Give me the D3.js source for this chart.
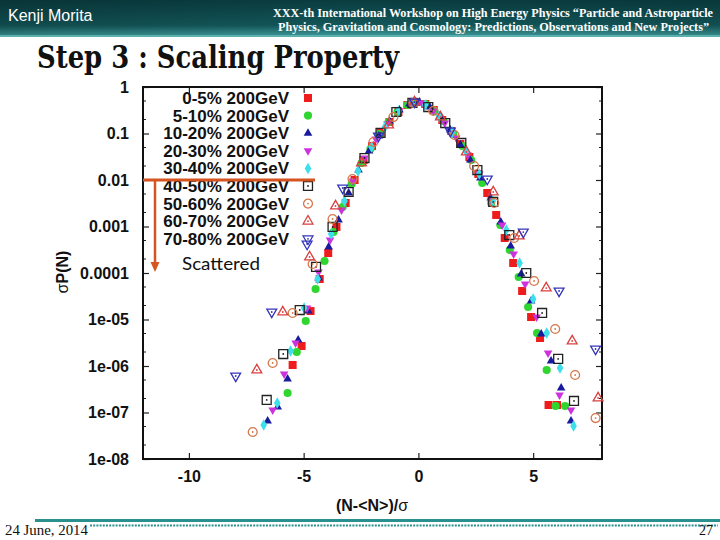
<!DOCTYPE html>
<html><head><meta charset="utf-8">
<script src="https://cdn.jsdelivr.net/npm/d3@7"></script>
<style>body{margin:0;background:#fff}svg{display:block}</style>
</head><body>
<script>
// ---------- data ----------
const categories = ["0-5% 200GeV","5-10% 200GeV","10-20% 200GeV","20-30% 200GeV","30-40% 200GeV","40-50% 200GeV","50-60% 200GeV","60-70% 200GeV","70-80% 200GeV"];
const xTickValues = [-10,-5,0,5];
const xTickLabels = ["-10","-5","0","5"];
const yTickValues = [1,0.1,0.01,0.001,0.0001,1e-5,1e-6,1e-7,1e-8];
const yTickLabels = ["1","0.1","0.01","0.001","0.0001","1e-05","1e-06","1e-07","1e-08"];

const s0_5 = [[-5.48,1.05e-6],[-5.09,2.69e-6],[-4.70,1.52e-5],[-4.30,7.43e-5],[-3.93,2.69e-4],[-3.57,9.76e-4],[-3.17,3.2e-3],[-2.78,1.0e-2],[-2.39,2.69e-2],[-2.02,5.38e-2],[-1.65,0.103],[-1.26,0.177],[-0.87,0.290],[-0.48,0.410],[-0.09,0.476],[0.30,0.431],[0.67,0.320],[1.04,0.195],[1.43,0.113],[1.83,5.94e-2],[2.22,3.13e-2],[2.61,1.35e-2],[3.0,5.25e-3],[3.39,1.77e-3],[3.76,5.66e-4],[4.13,1.64e-4],[4.52,4.1e-5],[4.91,1.13e-5],[5.30,4.0e-6],[5.67,1.45e-7],[6.04,1.45e-7]];
const s5_10 = [[-5.70,2.63e-7],[-5.30,2.0e-6],[-4.91,9.3e-6],[-4.48,4.53e-5],[-4.09,1.81e-4],[-3.70,7.6e-4],[-3.30,2.63e-3],[-2.91,8.2e-3],[-2.48,2.32e-2],[-2.09,4.64e-2],[-1.70,9.75e-2],[-1.30,0.177],[-0.91,0.290],[-0.48,0.410],[-0.09,0.476],[0.30,0.431],[0.70,0.305],[1.09,0.186],[1.52,9.75e-2],[1.91,5.38e-2],[2.30,2.69e-2],[2.78,8.6e-3],[3.17,3.2e-3],[3.57,1.08e-3],[3.98,3.12e-4],[4.37,8.2e-5],[4.78,1.86e-5],[5.17,5.1e-6],[5.59,8.2e-7],[5.98,1.38e-7],[6.39,1.38e-7]];
const s10_20 = [[-6.57,6.56e-8],[-6.13,1.31e-7],[-5.70,5.26e-7],[-5.24,3.62e-6],[-4.80,1.52e-5],[-4.35,7.8e-5],[-3.91,3.62e-4],[-3.48,1.38e-3],[-3.04,5.25e-3],[-2.61,1.64e-2],[-2.15,4.21e-2],[-1.72,8.83e-2],[-1.26,0.186],[-0.83,0.320],[-0.39,0.431],[0.04,0.476],[0.50,0.371],[0.93,0.238],[1.39,0.119],[1.83,5.66e-2],[2.26,2.69e-2],[2.70,1.10e-2],[3.15,4.1e-3],[3.59,1.25e-3],[4.02,3.81e-4],[4.48,9.5e-5],[4.91,2.5e-5],[5.35,4.88e-6],[5.78,1.28e-6],[6.22,3.36e-7],[6.65,6.56e-8]];
const s20_30 = [[-6.35,1.13e-7],[-5.85,6.73e-7],[-5.35,3.12e-6],[-4.85,1.77e-5],[-4.35,1.05e-4],[-3.85,5.13e-4],[-3.35,2.26e-3],[-2.85,9.5e-3],[-2.35,2.97e-2],[-1.85,7.62e-2],[-1.35,0.160],[-0.85,0.305],[-0.35,0.431],[0.15,0.453],[0.65,0.305],[1.15,0.168],[1.65,8.0e-2],[2.15,3.45e-2],[2.65,1.35e-2],[3.15,3.72e-3],[3.65,1.08e-3],[4.15,2.56e-4],[4.65,5.8e-5],[5.15,1.13e-5],[5.65,1.9e-6],[6.15,2.38e-7],[6.65,1.13e-7]];
const s30_40 = [[-6.74,5.38e-8],[-6.15,1.6e-7],[-5.57,2.1e-6],[-4.98,1.77e-5],[-4.39,7.43e-5],[-3.80,6.9e-4],[-3.22,3.53e-3],[-2.63,1.56e-2],[-2.04,5.13e-2],[-1.46,0.138],[-0.87,0.305],[-0.28,0.453],[0.30,0.410],[0.89,0.238],[1.48,0.108],[2.07,4.21e-2],[2.65,1.35e-2],[3.24,3.53e-3],[3.83,8.4e-4],[4.41,1.64e-4],[5.0,2.76e-5],[5.59,5.1e-6],[6.17,9.06e-7],[6.76,5.13e-8]];
const s40_50 = [[-6.61,1.86e-7],[-5.89,1.81e-6],[-5.17,1.6e-5],[-4.46,1.35e-4],[-3.74,9.76e-4],[-3.04,5.52e-3],[-2.35,2.97e-2],[-1.65,0.103],[-0.96,0.290],[-0.26,0.453],[0.43,0.371],[1.17,0.168],[1.87,6.25e-2],[2.57,1.64e-2],[3.26,3.37e-3],[3.96,6.56e-4],[4.70,1.0e-4],[5.39,1.38e-5],[6.09,1.42e-6],[6.78,1.77e-7]];
const s50_60 = [[-7.22,3.81e-8],[-6.35,1.16e-6],[-5.48,1.38e-5],[-4.61,1.56e-4],[-3.74,1.45e-3],[-2.87,1.05e-2],[-1.96,6.56e-2],[-1.09,0.226],[-0.22,0.453],[0.65,0.305],[1.57,9.29e-2],[2.43,2.0e-2],[3.30,3.2e-3],[4.17,5.66e-4],[5.04,6.73e-5],[5.96,6.25e-6],[6.83,6.41e-7],[7.72,7.6e-8]];
const s60_70 = [[-7.04,8.2e-7],[-5.91,1.45e-5],[-4.74,2.21e-4],[-3.61,2.76e-3],[-2.48,2.32e-2],[-1.30,0.152],[-0.17,0.476],[0.96,0.226],[2.09,4.0e-2],[3.26,5.52e-3],[4.39,6.25e-4],[5.57,4.75e-5],[6.70,3.45e-6],[7.83,2.05e-7]];
const s70_80 = [[-7.96,6.1e-7],[-6.39,1.45e-5],[-4.85,4.2e-4],[-3.30,6.73e-3],[-1.74,8.83e-2],[-0.17,0.476],[1.39,0.113],[3.0,1.05e-2],[4.57,7.6e-4],[6.13,4.1e-5],[7.72,2.32e-6]];
const seriesValues = [s0_5,s5_10,s10_20,s20_30,s30_40,s40_50,s50_60,s60_70,s70_80];

// ---------- styles ----------
const styles = [
  {type:d3.symbolSquare,   size:64, fill:"#ee1c1c", stroke:"none", rot:0},
  {type:d3.symbolCircle,   size:52, fill:"#2fd62f", stroke:"none", rot:0},
  {type:d3.symbolTriangle, size:32, fill:"#1a1a9c", stroke:"none", rot:0},
  {type:d3.symbolTriangle, size:32, fill:"#cc33dd", stroke:"none", rot:180},
  {type:d3.symbolDiamond,  size:38, fill:"#3ddfeb", stroke:"none", rot:0},
  {type:d3.symbolSquare,   size:80, fill:"none", stroke:"#222222", rot:0, dot:true},
  {type:d3.symbolCircle,   size:62, fill:"none", stroke:"#d4784c", rot:0, dot:true},
  {type:d3.symbolTriangle, size:42, fill:"none", stroke:"#d94040", rot:0, dot:true},
  {type:d3.symbolTriangle, size:42, fill:"none", stroke:"#3535bb", rot:180, dot:true}
];

const W=720,H=540;
const svg=d3.select("body").append("svg").attr("width",W).attr("height",H);
const defs=svg.append("defs");
const g1=defs.append("linearGradient").attr("id","ban").attr("x1",0).attr("y1",0).attr("x2",0).attr("y2",1);
g1.append("stop").attr("offset","0%").attr("stop-color","#0a3d40");
g1.append("stop").attr("offset","70%").attr("stop-color","#13575a");
g1.append("stop").attr("offset","100%").attr("stop-color","#3e9a9a");
const g2=defs.append("linearGradient").attr("id","banh").attr("x1",0).attr("y1",0).attr("x2",1).attr("y2",0);
g2.append("stop").attr("offset","0%").attr("stop-color","#000").attr("stop-opacity",0.15);
g2.append("stop").attr("offset","50%").attr("stop-color","#000").attr("stop-opacity",0);
g2.append("stop").attr("offset","100%").attr("stop-color","#000").attr("stop-opacity",0.1);

// banner
svg.append("rect").attr("x",0).attr("y",0).attr("width",W).attr("height",36).attr("fill","url(#ban)");
svg.append("rect").attr("x",0).attr("y",0).attr("width",W).attr("height",36).attr("fill","url(#banh)");
svg.append("rect").attr("x",0).attr("y",35).attr("width",W).attr("height",2).attr("fill","#5bb0b0");
svg.append("text").attr("x",8).attr("y",21).attr("fill","#fff")
  .style("font","16px 'Liberation Sans', Arial, sans-serif").text("Kenji Morita");
svg.append("text").attr("x",273).attr("y",17).attr("fill","#fff").attr("textLength",440).attr("lengthAdjust","spacingAndGlyphs")
  .style("font","bold 12px 'Liberation Serif', 'Times New Roman', serif")
  .text("XXX-th International Workshop on High Energy Physics \u201CParticle and Astroparticle");
svg.append("text").attr("x",278).attr("y",31).attr("fill","#fff").attr("textLength",431).attr("lengthAdjust","spacingAndGlyphs")
  .style("font","bold 12px 'Liberation Serif', 'Times New Roman', serif")
  .text("Physics, Gravitation and Cosmology: Predictions, Observations and New Projects\u201D");

// title
svg.append("text").attr("x",37).attr("y",68).attr("fill","#111").attr("textLength",362).attr("lengthAdjust","spacingAndGlyphs")
  .style("font","bold 31px 'DejaVu Serif', 'Liberation Serif', serif").text("Step 3 : Scaling Property");

// footer
svg.append("rect").attr("x",35).attr("y",519).attr("width",W-35).attr("height",3).attr("fill","#2a8f8f");
svg.append("line").attr("x1",90).attr("x2",718).attr("y1",525.5).attr("y2",525.5)
  .attr("stroke","#2a8f8f").attr("stroke-width",2).attr("stroke-dasharray","2,1.2");
svg.append("text").attr("x",5).attr("y",535).attr("fill","#111").attr("textLength",83).attr("lengthAdjust","spacingAndGlyphs")
  .style("font","14px 'Liberation Serif', serif").text("24 June, 2014");
svg.append("text").attr("x",713).attr("y",535).attr("text-anchor","end").attr("fill","#111")
  .style("font","14px 'Liberation Serif', serif").text("27");

// ---------- plot ----------
const L=143,R=602,T=87,B=459;
const x=d3.scaleLinear().domain([-12,8]).range([L,R]);
const y=d3.scaleLog().domain([1e-8,1]).range([B,T]);
const tickFont="bold 16px 'Liberation Sans', Arial, sans-serif";

const yAxis=d3.axisLeft(y).tickValues(yTickValues).tickFormat((d,i)=>yTickLabels[i]).tickSizeInner(-6).tickSizeOuter(0).tickPadding(14);
const ya=svg.append("g").attr("transform",`translate(${L},0)`).call(yAxis);
const yaR=svg.append("g").attr("transform",`translate(${R},0)`).call(d3.axisRight(y).tickValues(yTickValues).tickFormat("").tickSizeInner(-6).tickSizeOuter(0));
const xAxis=d3.axisBottom(x).tickValues(xTickValues).tickFormat((d,i)=>xTickLabels[i]).tickSizeInner(-6).tickSizeOuter(0).tickPadding(12);
const xa=svg.append("g").attr("transform",`translate(0,${B})`).call(xAxis);
const xaT=svg.append("g").attr("transform",`translate(0,${T})`).call(d3.axisTop(x).tickValues(xTickValues).tickFormat("").tickSizeInner(-6).tickSizeOuter(0));
[ya,yaR,xa,xaT].forEach(a=>{a.select(".domain").remove();a.selectAll("line").attr("stroke","#222").attr("stroke-width",1.2);
  a.selectAll("text").style("font",tickFont).attr("fill","#111");});
// minor ticks
const minors=[];
yTickValues.slice(0,-1).forEach(v=>{minors.push(v*0.5);minors.push(v*0.2);});
svg.append("g").selectAll("line").data(minors).join("line")
  .attr("x1",L).attr("x2",L+3).attr("y1",d=>y(d)).attr("y2",d=>y(d)).attr("stroke","#222");
svg.append("g").selectAll("line").data(minors).join("line")
  .attr("x1",R).attr("x2",R-3).attr("y1",d=>y(d)).attr("y2",d=>y(d)).attr("stroke","#222");

svg.append("rect").attr("x",L).attr("y",T).attr("width",R-L).attr("height",B-T)
  .attr("fill","none").attr("stroke","#111").attr("stroke-width",2);

// axis titles
svg.append("text").attr("transform","translate(68,272) rotate(-90)").attr("text-anchor","middle").attr("fill","#111")
  .style("font",tickFont).html("<tspan style='font-weight:normal'>\u03C3</tspan>P(N)");
svg.append("text").attr("x",372).attr("y",511).attr("text-anchor","middle").attr("fill","#111")
  .style("font",tickFont).html("(N-&lt;N&gt;)/<tspan style='font-weight:normal'>\u03C3</tspan>");

function drawMark(sel,st){
  sel.append("path").attr("d",d3.symbol().type(st.type).size(st.size)())
    .attr("transform",st.rot?`rotate(${st.rot})`:null)
    .attr("fill",st.fill).attr("stroke",st.stroke==="none"?null:st.stroke).attr("stroke-width",1.3);
  if(st.dot) sel.append("circle").attr("r",0.9).attr("fill",st.stroke);
}

// legend + data
const legX=289, legSym=308, legY0=98, legDy=17.6;
seriesValues.forEach((vals,i)=>{
  const st=styles[i];
  svg.append("text").attr("x",legX).attr("y",legY0+i*legDy+6).attr("text-anchor","end").attr("fill","#111")
    .style("font","bold 17px 'Liberation Sans', Arial, sans-serif").text(categories[i]);
  drawMark(svg.append("g").attr("transform",`translate(${legSym},${legY0+i*legDy})`),st);
  const g=svg.append("g");
  g.selectAll("g").data(vals).join("g")
    .attr("transform",d=>`translate(${x(d[0])},${y(d[1])})`)
    .each(function(){drawMark(d3.select(this),st);});
});

// annotation
const oc="#d5541f";
svg.append("line").attr("x1",L).attr("x2",315).attr("y1",180).attr("y2",180).attr("stroke",oc).attr("stroke-width",3);
svg.append("line").attr("x1",155).attr("x2",155).attr("y1",180).attr("y2",263).attr("stroke",oc).attr("stroke-width",2.5);
svg.append("path").attr("d","M150.5,262 L159.5,262 L155,272 Z").attr("fill",oc);
svg.append("text").attr("x",182).attr("y",270).attr("fill","#111").attr("textLength",78).attr("lengthAdjust","spacingAndGlyphs")
  .style("font","17px Lato, 'Noto Sans', sans-serif").text("Scattered");
</script>
</body></html>
